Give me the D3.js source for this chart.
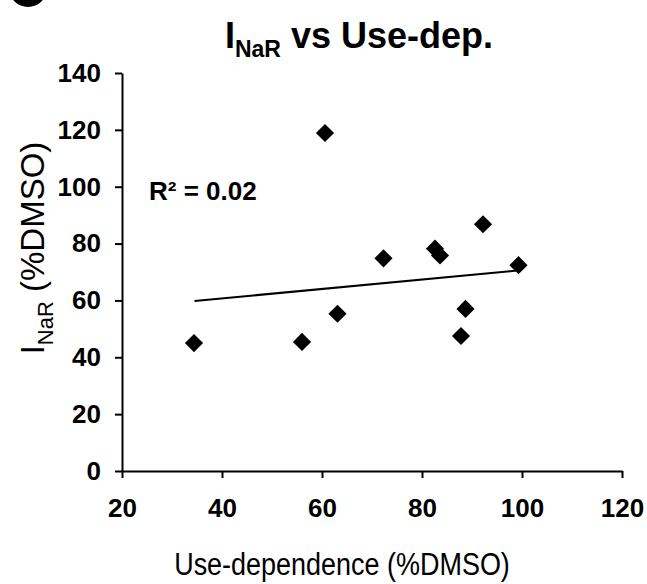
<html>
    <style>
        body { margin: 0; background: #fff; }
        text { font-family: "Liberation Sans", Arial, sans-serif; fill: #000; }
    </style>
    <body>
        <div id="chart"><svg></svg></div>
    </body>
    <script src="https://d3js.org/d3.v7.min.js"></script>
    <script>
    // use-dependence (%DMSO) vs I_NaR (%DMSO), one point per compound
    var useDep = [34.4, 56.0, 60.6, 63.1, 72.3, 82.6, 83.6, 87.8, 88.7, 92.2, 99.3]
    var iNaR   = [45.0, 45.4, 118.9, 55.3, 74.8, 78.2, 75.8, 47.5, 57.0, 86.8, 72.4]
    // linear trend line, start and end
    var trendX = [34.5, 99.5]
    var trendY = [59.8, 70.6]
    var xTicks = [20, 40, 60, 80, 100, 120]
    var yTicks = [0, 20, 40, 60, 80, 100, 120, 140]
    var rSquared = "0.02"

    var screen = {width: 647, height: 584}
    var plot = {left: 122, right: 622, top: 73, bottom: 471}

    var svg = d3.select("#chart svg")
                .attr("width", screen.width)
                .attr("height", screen.height)

    var xScale = d3.scaleLinear()
                    .domain([20, 120])
                    .range([plot.left, plot.right])
    var yScale = d3.scaleLinear()
                    .domain([0, 140])
                    .range([plot.bottom, plot.top])

    // cropped panel letter circle in the corner
    svg.append("circle")
        .attr("cx", 28)
        .attr("cy", -12)
        .attr("r", 19)
        .attr("fill", "#000")

    var xAxis = d3.axisBottom(xScale).tickValues(xTicks).tickSize(7).tickSizeOuter(0).tickPadding(21)
    var yAxis = d3.axisLeft(yScale).tickValues(yTicks).tickSize(7).tickSizeOuter(0).tickPadding(14)

    svg.append("g")
        .attr("transform", "translate(0," + plot.bottom + ")")
        .call(xAxis)
    svg.append("g")
        .attr("transform", "translate(" + plot.left + ",0)")
        .call(yAxis)

    svg.selectAll(".domain, .tick line")
        .attr("stroke", "#000")
        .attr("stroke-width", 2)
    svg.selectAll(".tick text")
        .attr("font-family", "Liberation Sans, Arial, sans-serif")
        .attr("font-size", 26)
        .attr("font-weight", "bold")
        .attr("fill", "#000")

    // trend line
    var line = d3.line()
                 .x(function(d){return xScale(d[0])})
                 .y(function(d){return yScale(d[1])})
    svg.append("path")
        .datum(d3.zip(trendX, trendY))
        .attr("d", line)
        .attr("fill", "none")
        .attr("stroke", "#000")
        .attr("stroke-width", 2)

    // diamond markers
    var diamond = d3.symbol().type(d3.symbolSquare).size(165)
    svg.append("g")
        .selectAll("path")
        .data(d3.zip(useDep, iNaR))
        .enter()
        .append("path")
        .attr("d", diamond)
        .attr("transform", function(d){return "translate(" + xScale(d[0]) + "," + yScale(d[1]) + ") rotate(45)"})
        .attr("fill", "#000")

    // title
    var title = svg.append("text")
        .attr("transform", "translate(359,48)")
        .attr("text-anchor", "middle")
        .attr("font-size", 36)
        .attr("font-weight", "bold")
    title.append("tspan").text("I")
    title.append("tspan").attr("font-size", 23).attr("dy", 9).text("NaR")
    title.append("tspan").attr("dy", -9).text(" vs Use-dep.")

    // R squared
    svg.append("text")
        .attr("x", 149)
        .attr("y", 200)
        .attr("font-size", 26)
        .attr("font-weight", "bold")
        .text("R\u00b2 = " + rSquared)

    // axis titles
    svg.append("text")
        .attr("transform", "translate(342,575) scale(0.87,1)")
        .attr("text-anchor", "middle")
        .attr("font-size", 31)
        .text("Use-dependence (%DMSO)")

    var yLabel = svg.append("text")
        .attr("transform", "translate(44,248) rotate(-90)")
        .attr("text-anchor", "middle")
        .attr("font-size", 33)
    yLabel.append("tspan").text("I")
    yLabel.append("tspan").attr("font-size", 22).attr("dy", 9).text("NaR")
    yLabel.append("tspan").attr("dy", -9).text(" (%DMSO)")
    </script>
</html>
